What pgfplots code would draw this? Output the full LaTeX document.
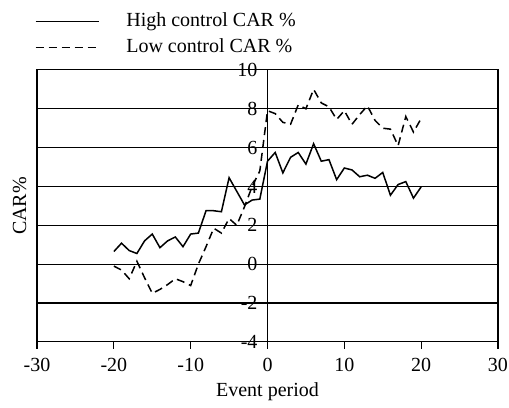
\documentclass[border=0pt]{standalone}
\usepackage{fontspec}
\setmainfont{Liberation Serif}
\usepackage{pgfplots}
\pgfplotsset{compat=1.18}
\pgfplotstableread{
x y
-20 0.65
-19 1.08
-18 0.70
-17 0.55
-16 1.20
-15 1.55
-14 0.85
-13 1.20
-12 1.40
-11 0.90
-10 1.55
-9 1.60
-8 2.75
-7 2.75
-6 2.70
-5 4.45
-4 3.75
-3 3.05
-2 3.30
-1 3.35
0 5.30
1 5.75
2 4.70
3 5.50
4 5.75
5 5.15
6 6.20
7 5.30
8 5.38
9 4.35
10 4.95
11 4.85
12 4.50
13 4.58
14 4.42
15 4.72
16 3.55
17 4.10
18 4.25
19 3.40
20 3.98
}\high
\pgfplotstableread{
x y
-20 -0.10
-19 -0.30
-18 -0.75
-17 0.15
-16 -0.70
-15 -1.50
-14 -1.30
-13 -1.05
-12 -0.75
-11 -0.90
-10 -1.10
-9 0.00
-8 0.90
-7 1.85
-6 1.60
-5 2.35
-4 2.00
-3 2.95
-2 4.00
-1 4.80
0 7.90
1 7.75
2 7.30
3 7.20
4 8.20
5 8.00
6 9.00
7 8.30
8 8.10
9 7.45
10 7.90
11 7.20
12 7.70
13 8.15
14 7.40
15 7.00
16 6.95
17 6.10
18 7.60
19 6.80
20 7.50
}\low
\begin{document}
\begin{tikzpicture}
\begin{axis}[
  width=230.5pt, height=136pt, scale only axis,
  xmin=-30, xmax=30, ymin=-4, ymax=10,
  xtick={-30,-20,...,30},
  ytick={-4,-2,...,10},
  yticklabels={},
  ymajorgrids,
  major grid style={black, line width=0.6pt},
  axis line style={black, line width=0.6pt},
  xtick style={black, line width=0.6pt},
  ytick style={draw=none},
  xtick pos=bottom, xtick align=outside, major tick length=3.5pt,
  /pgf/number format/assume math mode=true,
  ticklabel style={font=\fontsize{10}{12}\selectfont},
  xticklabel style={inner sep=0pt, yshift=-4.3pt},
  xlabel={Event period},
  xlabel style={font=\fontsize{10}{12}\selectfont, yshift=-2.2pt},
  ylabel={CAR\%},
  ylabel style={font=\fontsize{10}{12}\selectfont, at={(axis description cs:-0.022,0.5)}, anchor=south, inner sep=0pt},
  legend style={draw=none, fill=none, at={(axis description cs:0,1)}, anchor=south west,
    xshift=-4.3pt, yshift=4pt, row sep=3pt,
    nodes={inner sep=0pt, text height=7.5pt, text depth=2.5pt, font=\fontsize{10}{12}\selectfont}},
  legend cell align=left,
  legend image code/.code={\draw[#1] (0pt,0pt) -- (31.5pt,0pt); \path (45pt,0pt);},
  after end axis/.code={
    \path (axis description cs:-0.0803,0.5);
    \path (axis description cs:1.0239,0.5);
    \path (axis description cs:0.5,1.257);
  },
]
\addplot[black, line width=0.75pt] table[x=x,y=y] {\high};
\addlegendentry{High control CAR \%}
\addplot[black, line width=0.75pt, dash pattern=on 4pt off 2.5pt] table[x=x,y=y] {\low};
\addlegendentry{Low control CAR \%}
\end{axis}
\begin{axis}[
  width=230.5pt, height=136pt, scale only axis,
  xmin=-30, xmax=30, ymin=-4, ymax=10,
  axis x line=none, axis y line=center,
  axis line style={-, black, line width=0.6pt},
  ytick={-4,-2,...,10}, xtick=\empty,
  ytick style={draw=none},
  /pgf/number format/assume math mode=true,
  yticklabel style={font=\fontsize{10}{12}\selectfont, anchor=east, inner sep=0pt, xshift=-2.7pt},
]
\end{axis}
\end{tikzpicture}
\end{document}
